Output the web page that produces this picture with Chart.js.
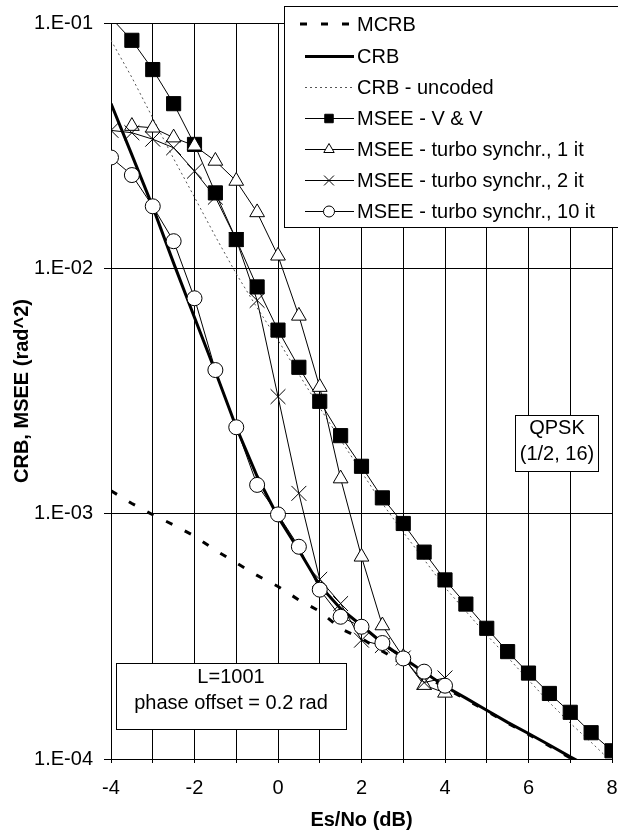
<!DOCTYPE html>
<html>
<head>
<meta charset="utf-8">
<script src="https://cdn.jsdelivr.net/npm/chart.js@4/dist/chart.umd.min.js"></script>
<style>
  html, body { margin: 0; padding: 0; background: #fff; }
  #wrap { width: 618px; height: 833px; }
</style>
</head>
<body>
<div id="wrap"><canvas id="crbChart" width="618" height="833"></canvas></div>
<script>
// Es/No points (dB), one every 0.5 dB
const esNo = [-4, -3.5, -3, -2.5, -2, -1.5, -1, -0.5, 0, 0.5, 1, 1.5, 2, 2.5, 3, 3.5, 4, 4.5, 5, 5.5, 6, 6.5, 7, 7.5, 8];

// series values (rad^2)
const mcrb = [0.00124, 0.00110, 0.00099, 0.00090, 0.00081, 0.00071, 0.00063, 0.00056, 0.000505, 0.000445, 0.00040, 0.00034, 0.00031, 0.000275, 0.000246, 0.00022, 0.000195, 0.000175, 0.000157, 0.00014, 0.000126, 0.000113, 0.000101, 0.00009, 0.000081];
const crb = [0.047, 0.029, 0.0178, 0.0105, 0.0063, 0.0038, 0.00225, 0.00142, 0.00097, 0.00071, 0.00051, 0.00041, 0.00035, 0.000297, 0.000258, 0.000226, 0.000198, 0.000177, 0.000158, 0.000141, 0.000127, 0.000114, 0.000102, 0.000092, 0.000083];
const crbUncoded = [0.085, 0.06, 0.041, 0.028, 0.0195, 0.0135, 0.0095, 0.0069, 0.0051, 0.0037, 0.0027, 0.002, 0.00148, 0.0011, 0.00084, 0.00065, 0.0005, 0.0004, 0.00032, 0.00026, 0.00021, 0.00017, 0.00014, 0.000117, 0.000097];
const msseVV = [0.105, 0.085, 0.0646, 0.0469, 0.032, 0.0203, 0.0131, 0.0084, 0.0056, 0.00395, 0.00287, 0.00208, 0.00156, 0.00116, 0.000912, 0.000697, 0.000537, 0.000428, 0.000341, 0.000274, 0.000224, 0.000185, 0.000155, 0.000128, 0.000108];
const turbo1 = [null, 0.038, 0.0374, 0.0341, 0.0316, 0.0274, 0.0227, 0.0169, 0.01125, 0.0064, 0.00328, 0.00139, 0.000667, 0.00035, 0.00026, 0.0002, 0.000186];
const turbo2 = [0.0365, 0.0357, 0.0336, 0.031, 0.0249, 0.0195, 0.0131, 0.0074, 0.003, 0.00121, 0.00054, 0.00043, 0.000305, 0.00029, 0.000258, 0.000205, 0.000214];
const turbo10 = [0.0283, 0.024, 0.0179, 0.0129, 0.00755, 0.00385, 0.00225, 0.00131, 0.000993, 0.000733, 0.00049, 0.00038, 0.000346, 0.000297, 0.000257, 0.000227, 0.000199];

// axis ticks
const xTicks = [-4, -3, -2, -1, 0, 1, 2, 3, 4, 5, 6, 7, 8];
const xTickLabels = ['-4', '', '-2', '', '0', '', '2', '', '4', '', '6', '', '8'];
const yTicks = [1e-4, 1e-3, 1e-2, 1e-1];
const yTickLabels = ['1.E-04', '1.E-03', '1.E-02', '1.E-01'];

const seriesNames = ['MCRB', 'CRB', 'CRB - uncoded', 'MSEE - V & V', 'MSEE - turbo synchr., 1 it', 'MSEE - turbo synchr., 2 it', 'MSEE - turbo synchr., 10 it'];

const FONT = "'Liberation Sans', Arial, sans-serif";
Chart.defaults.font.family = FONT;
Chart.defaults.font.size = 20;
Chart.defaults.color = '#000';

const toPoints = vals => vals.map((v, i) => ({ x: esNo[i], y: v }));

const datasets = [
    { label: seriesNames[0], data: toPoints(mcrb), borderColor: '#000', borderWidth: 3, borderDash: [7, 14], pointRadius: 0, order: 7 },
    { label: seriesNames[1], data: toPoints(crb), borderColor: '#000', borderWidth: 3, pointRadius: 0, order: 6 },
    { label: seriesNames[2], data: toPoints(crbUncoded), borderColor: '#555', borderWidth: 1, borderDash: [2, 3], pointRadius: 0, order: 5 },
    { label: seriesNames[3], data: toPoints(msseVV), borderColor: '#000', borderWidth: 1,
      pointStyle: 'rect', pointRadius: ctx => ctx.dataIndex === 0 ? 0 : 10, pointBackgroundColor: '#000', pointBorderColor: '#000', pointBorderWidth: 1, order: 4 },
    { label: seriesNames[4], data: toPoints(turbo1), borderColor: '#000', borderWidth: 1,
      pointStyle: 'triangle', pointRadius: 8.5, pointBackgroundColor: '#fff', pointBorderColor: '#000', pointBorderWidth: 1, order: 3 },
    { label: seriesNames[5], data: toPoints(turbo2), borderColor: '#000', borderWidth: 1,
      pointStyle: 'crossRot', pointRadius: 10.5, pointBackgroundColor: '#fff', pointBorderColor: '#000', pointBorderWidth: 1, order: 2 },
    { label: seriesNames[6], data: toPoints(turbo10), borderColor: '#000', borderWidth: 1,
      pointStyle: 'circle', pointRadius: 7.5, pointBackgroundColor: '#fff', pointBorderColor: '#000', pointBorderWidth: 1, order: 1 }
];

// legend box and the two text boxes, Excel style
const boxesPlugin = {
    id: 'boxes',
    afterDraw(chart) {
        const ctx = chart.ctx;
        ctx.save();
        ctx.lineWidth = 1;
        ctx.strokeStyle = '#000';
        ctx.fillStyle = '#000';
        ctx.font = '20px ' + FONT;
        ctx.textBaseline = 'middle';

        const textBox = (x, y, w, h, lines, cx, ys) => {
            ctx.fillStyle = '#fff';
            ctx.fillRect(x, y, w, h);
            ctx.strokeRect(x + 0.5, y + 0.5, w, h);
            ctx.fillStyle = '#000';
            ctx.textAlign = 'center';
            lines.forEach((t, i) => ctx.fillText(t, cx, ys[i]));
        };
        textBox(515, 415, 83, 56, ['QPSK', '(1/2, 16)'], 557, [428.5, 454.5]);
        textBox(116, 663, 230, 66, ['L=1001', 'phase offset = 0.2 rad'], 231, [677, 703.5]);

        // legend
        ctx.fillStyle = '#fff';
        ctx.fillRect(284, 6, 340, 222);
        ctx.strokeRect(284.5, 6.5, 340, 221);
        const rowY = [24, 56.5, 87.5, 118.5, 149.5, 180.5, 211.5];
        const markers = [null, null, null,
            { pointStyle: 'rect', radius: 6, fill: '#000' },
            { pointStyle: 'triangle', radius: 6, fill: '#fff' },
            { pointStyle: 'crossRot', radius: 7, fill: '#fff' },
            { pointStyle: 'circle', radius: 5.5, fill: '#fff' }];
        datasets.forEach((ds, i) => {
            const y = rowY[i];
            ctx.save();
            ctx.strokeStyle = ds.borderColor;
            ctx.lineWidth = ds.borderWidth;
            ctx.setLineDash(ds.borderDash || []);
            ctx.beginPath();
            ctx.moveTo(i === 0 ? 300 : 305, y);
            ctx.lineTo(354, y);
            ctx.stroke();
            ctx.restore();
            const m = markers[i];
            if (m) {
                ctx.save();
                ctx.fillStyle = m.fill;
                ctx.strokeStyle = '#000';
                ctx.lineWidth = 1;
                Chart.helpers.drawPoint(ctx, { pointStyle: m.pointStyle, radius: m.radius, rotation: 0, borderWidth: 1 }, 329, y);
                ctx.restore();
            }
            ctx.fillStyle = '#000';
            ctx.textAlign = 'left';
            ctx.fillText(ds.label, 357, y + 1);
        });
        ctx.restore();
    }
};

new Chart(document.getElementById('crbChart').getContext('2d'), {
    type: 'line',
    data: { datasets: datasets },
    options: {
        responsive: false,
        animation: false,
        // no extra room for marker overflow, the plot box is fixed
        layout: { autoPadding: false, padding: { left: 0, right: 6, top: 22, bottom: 0 } },
        plugins: {
            legend: { display: false },
            tooltip: { enabled: false }
        },
        scales: {
            x: {
                type: 'linear',
                min: -4,
                max: 8,
                afterBuildTicks: s => { s.ticks = xTicks.map(v => ({ value: v })); },
                afterFit: s => {
                    s.height = 74;
                    s.paddingLeft = 0;
                    s.paddingRight = 0;
                },
                ticks: {
                    autoSkip: false,
                    maxRotation: 0,
                    padding: 13,
                    callback: (v, i) => xTickLabels[i]
                },
                grid: { color: '#000', lineWidth: 1, tickLength: 4 },
                border: { color: '#000', width: 1 },
                title: {
                    display: true,
                    text: 'Es/No (dB)',
                    font: { size: 20, weight: 'bold' },
                    padding: { top: 0, bottom: 1 }
                }
            },
            y: {
                type: 'logarithmic',
                min: 1e-4,
                max: 1e-1,
                afterBuildTicks: s => { s.ticks = yTicks.map(v => ({ value: v })); },
                afterFit: s => { s.width = 111; },
                ticks: {
                    padding: 11,
                    callback: (v, i) => yTickLabels[i]
                },
                grid: { color: '#000', lineWidth: 1, tickLength: 7 },
                border: { color: '#000', width: 1 },
                title: {
                    display: true,
                    text: 'CRB, MSEE (rad^2)',
                    font: { size: 20, weight: 'bold' },
                    padding: { top: 10, bottom: 0 }
                }
            }
        }
    },
    plugins: [boxesPlugin]
});
</script>
</body>
</html>
